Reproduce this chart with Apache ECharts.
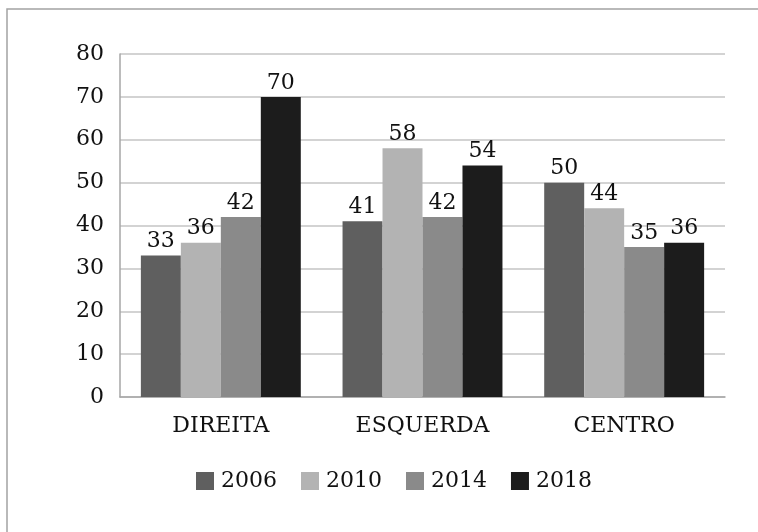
<!DOCTYPE html>
<html>
<head>
<meta charset="utf-8">
<script src="https://cdn.jsdelivr.net/npm/echarts@6/dist/echarts.min.js"></script>
<style>
  html, body { margin: 0; padding: 0; background: #fff; }
  #chart { width: 758px; height: 532px; }
</style>
</head>
<body>
<div id="chart"></div>
<script>
// dados
const categories = ['DIREITA', 'ESQUERDA', 'CENTRO']
const years = ['2006', '2010', '2014', '2018']
const v2006 = [33, 41, 50]
const v2010 = [36, 58, 44]
const v2014 = [42, 42, 35]
const v2018 = [70, 54, 36]
const yTicks = [0, 10, 20, 30, 40, 50, 60, 70, 80]

const colors = ['#5f5f5f', '#b3b3b3', '#8a8a8a', '#1c1c1c']
const font = '"DejaVu Serif", serif'

const chart = echarts.init(document.getElementById('chart'))

const values = [v2006, v2010, v2014, v2018]
const series = years.map((y, i) => ({
    name: y,
    type: 'bar',
    data: values[i],
    barGap: '0%',
    barCategoryGap: '20.7%',
    itemStyle: { color: colors[i] },
    label: {
        show: true,
        position: 'top',
        distance: 3,
        color: '#111',
        fontFamily: font,
        fontSize: 22
    }
}))

chart.setOption({
    animation: false,
    textStyle: { fontFamily: font },
    graphic: [{
        type: 'rect',
        shape: { x: 7, y: 9, width: 900, height: 700 },
        style: { fill: 'none', stroke: '#a3a3a3', lineWidth: 1.5 },
        silent: true
    }],
    grid: { left: 120, right: 33, top: 54, bottom: 135 },
    legend: {
        data: years,
        left: 196,
        top: 470,
        padding: 0,
        itemWidth: 18,
        itemHeight: 18,
        itemGap: 24,
        icon: 'rect',
        textStyle: { fontFamily: font, fontSize: 22, color: '#111', padding: [0, 0, 0, 2] }
    },
    xAxis: {
        type: 'category',
        data: categories,
        axisLine: { lineStyle: { color: '#a6a6a6', width: 1.5 } },
        axisTick: { show: false },
        axisLabel: { fontFamily: font, fontSize: 22, color: '#111', margin: 18 }
    },
    yAxis: {
        type: 'value',
        min: yTicks[0],
        max: yTicks[yTicks.length - 1],
        interval: 10,
        axisLine: { show: true, lineStyle: { color: '#a6a6a6', width: 1.5 } },
        axisTick: { show: false },
        splitLine: { lineStyle: { color: '#c4c4c4', width: 1.5 } },
        axisLabel: { fontFamily: font, fontSize: 22, color: '#111', margin: 16 }
    },
    series: series
})
</script>
</body>
</html>
